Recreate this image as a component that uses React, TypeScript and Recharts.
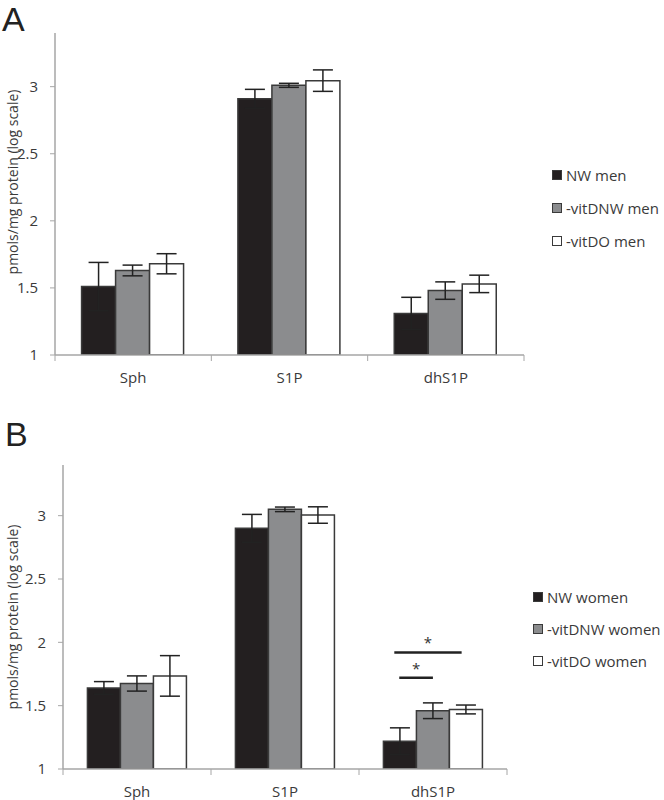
import { BarChart, Bar, XAxis, YAxis, ErrorBar } from "recharts";

// categories and tick values
const categories = ["Sph", "S1P", "dhS1P"];
const yTicks = [1, 1.5, 2, 2.5, 3];

// panel A - men
const menNW = [1.51, 2.91, 1.31];
const menNWErr = [0.18, 0.07, 0.12];
const menDNW = [1.63, 3.01, 1.48];
const menDNWErr = [0.04, 0.015, 0.065];
const menDO = [1.68, 3.045, 1.53];
const menDOErr = [0.075, 0.08, 0.065];

// panel B - women
const womenNW = [1.64, 2.9, 1.22];
const womenNWErr = [0.05, 0.11, 0.105];
const womenDNW = [1.675, 3.05, 1.46];
const womenDNWErr = [0.06, 0.018, 0.062];
const womenDO = [1.735, 3.005, 1.47];
const womenDOErr = [0.16, 0.065, 0.035];

const menNames = ["NW men", "-vitDNW men", "-vitDO men"];
const womenNames = ["NW women", "-vitDNW women", "-vitDO women"];

// significance brackets on dhS1P (women): span in bar widths, level
const sigCategory = 2;
const sigLevels = [1.72, 1.92];
const sigSpans = [
  [0.48, 1.5],
  [0.33, 2.37],
];

const FILLS = ["#231f20", "#8b8c8e", "#ffffff"];
const EDGE = "#3a3a3a";
const AXIS = "#a6a6a6";
const TEXT = "#3a3a3a";
const FONT = "'Open Sans', sans-serif";

const build = (a: number[], ae: number[], b: number[], be: number[], c: number[], ce: number[]) =>
  categories.map((name, i) => ({
    name,
    nw: a[i],
    nwErr: ae[i],
    dnw: b[i],
    dnwErr: be[i],
    dO: c[i],
    dOErr: ce[i],
  }));

const menData = build(menNW, menNWErr, menDNW, menDNWErr, menDO, menDOErr);
const womenData = build(womenNW, womenNWErr, womenDNW, womenDNWErr, womenDO, womenDOErr);

function makeCatTick(band: number) {
  return (props: any) => {
    const { x, y, payload, index } = props;
    const half = payload && payload.offset ? payload.offset : band / 2;
    return (
      <g>
        <line x1={x + half} x2={x + half} y1={y} y2={y + 6} stroke={AXIS} strokeWidth={1} />
        {index === 0 && <line x1={x - half} x2={x - half} y1={y} y2={y + 6} stroke={AXIS} strokeWidth={1} />}
        <text x={x} y={y + 28} textAnchor="middle" fontSize={15} fill={TEXT} fontFamily={FONT}>
          {payload.value}
        </text>
      </g>
    );
  };
}

const yLabel = (shift: number) => (props: any) => {
  const vb = props.viewBox || {};
  const cy = vb.y + vb.height / 2 - shift;
  const cx = 12;
  return (
    <text
      x={cx}
      y={cy}
      transform={`rotate(-90 ${cx} ${cy})`}
      textAnchor="middle"
      dominantBaseline="central"
      fontSize={14}
      fill={TEXT}
      fontFamily={FONT}
    >
      pmols/mg protein (log scale)
    </text>
  );
};

const renderSig = (props: any) => {
  const { x, y, width, height, value, index } = props;
  if (index !== sigCategory) return null;
  const base = y + height;
  const perUnit = height / (value - 1);
  return (
    <g>
      {sigLevels.map((lvl, k) => {
        const ly = base - (lvl - 1) * perUnit;
        const x1 = x + sigSpans[k][0] * width;
        const x2 = x + sigSpans[k][1] * width;
        return (
          <g key={k}>
            <line x1={x1} x2={x2} y1={ly} y2={ly} stroke="#222" strokeWidth={2.5} />
            <text x={(x1 + x2) / 2} y={ly - 4} textAnchor="middle" fontSize={15} fill="#333" fontFamily={FONT}>
              *
            </text>
          </g>
        );
      })}
    </g>
  );
};

function Panel(props: {
  data: any[];
  height: number;
  top: number;
  yWidth: number;
  right: number;
  bottom: number;
  gap: string;
  band: number;
  labelShift: number;
  sig?: boolean;
}) {
  const { data, height, top, yWidth, right, bottom, gap, band, labelShift, sig } = props;
  const keys = ["nw", "dnw", "dO"];
  return (
    <BarChart
      width={664}
      height={height}
      data={data}
      margin={{ top, right, bottom: bottom - 26, left: 0 }}
      barCategoryGap={gap}
      barGap={0}
    >
      <XAxis
        dataKey="name"
        height={26}
        tickSize={0}
        tickMargin={0}
        axisLine={{ stroke: AXIS, strokeWidth: 1.5 }}
        tickLine={false}
        tick={makeCatTick(band)}
        interval={0}
      />
      <YAxis
        type="number"
        domain={[1, 3.4]}
        ticks={yTicks}
        width={yWidth}
        tickSize={5}
        tickMargin={12}
        axisLine={{ stroke: AXIS, strokeWidth: 1.5 }}
        tickLine={{ stroke: AXIS }}
        tick={{ fontSize: 15, fill: TEXT, fontFamily: FONT }}
        label={yLabel(labelShift)}
        allowDataOverflow
      />
      {keys.map((k, i) => (
        <Bar
          key={k}
          dataKey={k}
          fill={FILLS[i]}
          stroke={EDGE}
          strokeWidth={1.5}
          isAnimationActive={false}
          label={sig && i === 0 ? renderSig : undefined}
        >
          <ErrorBar dataKey={k + "Err"} width={10} stroke="#222" strokeWidth={1.5} direction="y" />
        </Bar>
      ))}
    </BarChart>
  );
}

function LegendBox(props: { names: string[]; left: number; top: number; step: number }) {
  const { names, left, top, step } = props;
  return (
    <div style={{ position: "absolute", left, top, fontFamily: FONT, fontSize: 15, color: TEXT }}>
      {names.map((n, i) => (
        <div key={n} style={{ height: step, display: "flex", alignItems: "center", whiteSpace: "nowrap" }}>
          <span
            style={{
              display: "inline-block",
              width: 8,
              height: 8,
              background: FILLS[i],
              border: `1.5px solid ${EDGE}`,
              marginRight: 4,
            }}
          />
          {n}
        </div>
      ))}
    </div>
  );
}

const panelLetter = {
  position: "absolute" as const,
  fontFamily: "'Liberation Sans', Arial, sans-serif",
  fontSize: 34,
  lineHeight: "38px",
  color: "#222",
};

export default function App() {
  return (
    <div style={{ position: "absolute", left: 0, top: 0, width: 664, height: 800, background: "#fff" }}>
      <div style={{ position: "absolute", left: 0, top: 0 }}>
        <Panel
          data={menData}
          height={390}
          top={33}
          yWidth={55}
          right={140}
          bottom={35}
          gap="17%"
          band={156.5}
          labelShift={12}
        />
      </div>
      <div style={{ position: "absolute", left: 0, top: 400 }}>
        <Panel
          data={womenData}
          height={400}
          top={65}
          yWidth={63}
          right={157}
          bottom={31}
          gap="16.5%"
          band={148}
          labelShift={0}
          sig
        />
      </div>
      <div style={{ ...panelLetter, left: 2, top: 0 }}>A</div>
      <div style={{ ...panelLetter, left: 5, top: 415 }}>B</div>
      <LegendBox names={menNames} left={552} top={158} step={33} />
      <LegendBox names={womenNames} left={533} top={581} step={32} />
    </div>
  );
}
